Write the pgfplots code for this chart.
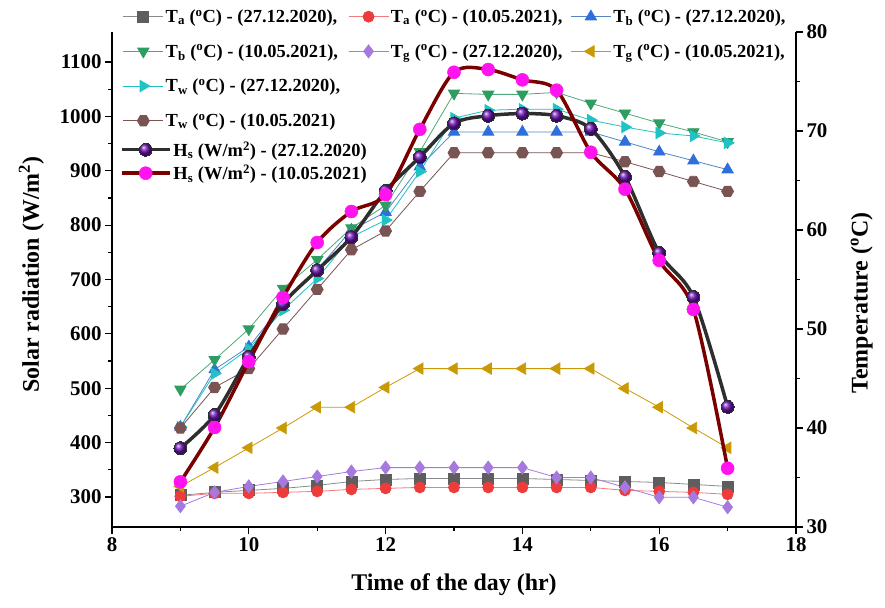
\documentclass[border=0pt]{standalone}
\usepackage{fontspec}
\setmainfont{Liberation Serif}
\usepackage{pgfplots}
\pgfplotsset{compat=1.18}
\usetikzlibrary{plotmarks}

\definecolor{cTaA}{HTML}{5E5E5E}\definecolor{cTaAl}{HTML}{8A8A8A}
\definecolor{cTaB}{HTML}{EE3B3B}\definecolor{cTaBl}{HTML}{F27A7A}
\definecolor{cTbA}{HTML}{2F6FDB}\definecolor{cTbAl}{HTML}{4F86C6}
\definecolor{cTbB}{HTML}{2E9D62}\definecolor{cTbBl}{HTML}{4FA877}
\definecolor{cTgA}{HTML}{A679DE}
\definecolor{cTgB}{HTML}{C99A06}
\definecolor{cTwA}{HTML}{20C2C4}
\definecolor{cTwB}{HTML}{7A5353}
\definecolor{cHsA}{HTML}{2E2E2E}
\definecolor{cHsB}{HTML}{7A0000}
\definecolor{cMag}{HTML}{FF14F0}
\definecolor{cBall}{HTML}{6A10B0}

\pgfdeclareplotmark{hexagon}{%
  \pgfpathmoveto{\pgfqpointpolar{0}{\pgfplotmarksize}}%
  \pgfpathlineto{\pgfqpointpolar{60}{\pgfplotmarksize}}%
  \pgfpathlineto{\pgfqpointpolar{120}{\pgfplotmarksize}}%
  \pgfpathlineto{\pgfqpointpolar{180}{\pgfplotmarksize}}%
  \pgfpathlineto{\pgfqpointpolar{240}{\pgfplotmarksize}}%
  \pgfpathlineto{\pgfqpointpolar{300}{\pgfplotmarksize}}%
  \pgfpathclose\pgfusepathqfillstroke}

\newcommand{\tickfont}{\fontsize{21}{24}\selectfont\bfseries}
\newcommand{\labfont}{\fontsize{24}{28}\selectfont\bfseries}
\newcommand{\legfont}{\fontsize{18.5}{21}\selectfont\bfseries}

\pgfplotsset{
  base/.style={
    width=684bp, height=495bp, scale only axis,
    at={(0,0)}, anchor=south west,
    xmin=8, xmax=18,
    axis line style={line width=1.4bp},
    tick style={line width=1.2bp, black},
    tick align=outside,
    major tick length=7bp, minor tick length=4bp,
    ticklabel style={font=\tickfont},
    /pgf/number format/assume math mode=true,
    /pgf/number format/1000 sep={},
    legend cell align=left,
  },
  temp/.style={thin, line width=0.8bp, mark size=5.5bp},
  legimg/.style={legend image code/.code={%
      \draw[mark repeat=2, mark phase=2] plot coordinates {(0bp,0bp) (20bp,0bp) (40bp,0bp)};}},
}

\begin{document}
\begin{tikzpicture}
\path[use as bounding box] (-112bp,-81bp) rectangle (773bp,527bp);

% temperatures, right axis
\begin{axis}[base,
  axis x line*=bottom, axis y line*=right,
  ymin=30, ymax=80,
  xtick={8,10,...,18}, minor x tick num=1,
  ytick={30,40,...,80}, minor y tick num=1,
  xlabel={Time of the day (hr)},
  ylabel={Temperature (\textsuperscript{o}C)},
  every axis x label/.style={at={(axis description cs:0.5,-0.116)}, anchor=center, font=\labfont},
  every axis y label/.style={at={(axis description cs:1.096,0.4525)}, rotate=90, anchor=center, font=\labfont},
  legimg,
  legend columns=3,
  legend style={draw=none, fill=none, inner sep=0pt, outer sep=0pt,
    at={(axis description cs:0.016,1.066)}, anchor=north west,
    font=\legfont, nodes={inner ysep=10.2bp},
    /tikz/every even column/.append style={column sep=6bp}},
]
\addplot[temp, cTaAl, mark=square*, mark options={draw=cTaA, fill=cTaA}] coordinates {
(9,33.2) (9.5,33.5) (10,33.7) (10.5,33.9) (11,34.2) (11.5,34.6) (12,34.8) (12.5,34.9) (13,34.9)
(13.5,34.9) (14,34.9) (14.5,34.8) (15,34.7) (15.5,34.6) (16,34.5) (16.5,34.3) (17,34.1)};
\addlegendentry{T\textsubscript{a} (\textsuperscript{o}C) - (27.12.2020),}
\addplot[temp, cTaBl, mark=*, mark options={draw=cTaB, fill=cTaB}] coordinates {
(9,33.1) (9.5,33.4) (10,33.4) (10.5,33.5) (11,33.6) (11.5,33.8) (12,33.9) (12.5,34.0) (13,34.0)
(13.5,34.0) (14,34.0) (14.5,34.0) (15,34.0) (15.5,33.7) (16,33.6) (16.5,33.5) (17,33.3)};
\addlegendentry{T\textsubscript{a} (\textsuperscript{o}C) - (10.05.2021),}
\addplot[temp, cTbAl, mark=triangle*, mark size=6.5bp, mark options={draw=cTbA, fill=cTbA}] coordinates {
(9,40.1) (9.5,45.9) (10,48.2) (10.5,52.5) (11,56.0) (11.5,60.0) (12,61.8) (12.5,66.4) (13,69.9)
(13.5,69.9) (14,69.9) (14.5,69.9) (15,69.9) (15.5,68.9) (16,67.9) (16.5,67.0) (17,66.1)};
\addlegendentry{T\textsubscript{b} (\textsuperscript{o}C) - (27.12.2020),}
\addplot[temp, cTbBl, mark=triangle*, mark size=6.5bp, mark options={rotate=180, draw=cTbB, fill=cTbB}] coordinates {
(9,43.9) (9.5,46.9) (10,50.0) (10.5,54.1) (11,57.0) (11.5,60.2) (12,62.5) (12.5,67.9) (13,73.8)
(13.5,73.7) (14,73.7) (14.5,73.9) (15,72.8) (15.5,71.8) (16,70.8) (16.5,69.9) (17,68.9)};
\addlegendentry{T\textsubscript{b} (\textsuperscript{o}C) - (10.05.2021),}
\addplot[temp, cTgA, mark=diamond*, mark size=6.5bp, mark options={draw=cTgA, fill=cTgA}] coordinates {
(9,32.1) (9.5,33.5) (10,34.1) (10.5,34.6) (11,35.1) (11.5,35.6) (12,36.0) (12.5,36.0) (13,36.0)
(13.5,36.0) (14,36.0) (14.5,35.0) (15,35.0) (15.5,34.0) (16,33.0) (16.5,33.0) (17,32.0)};
\addlegendentry{T\textsubscript{g} (\textsuperscript{o}C) - (27.12.2020),}
\addplot[temp, cTgB, mark=triangle*, mark size=6.5bp, mark options={rotate=90, draw=cTgB, fill=cTgB}] coordinates {
(9,34.1) (9.5,36.0) (10,38.0) (10.5,40.0) (11,42.1) (11.5,42.1) (12,44.1) (12.5,46.0) (13,46.0)
(13.5,46.0) (14,46.0) (14.5,46.0) (15,46.0) (15.5,44.0) (16,42.1) (16.5,40.0) (17,38.0)};
\addlegendentry{T\textsubscript{g} (\textsuperscript{o}C) - (10.05.2021),}
\addplot[temp, cTwA, mark=triangle*, mark size=6.5bp, mark options={rotate=-90, draw=cTwA, fill=cTwA}] coordinates {
(9,40.1) (9.5,45.5) (10,48.0) (10.5,51.9) (11,55.1) (11.5,59.3) (12,61.0) (12.5,65.9) (13,71.3)
(13.5,72.1) (14,72.2) (14.5,72.2) (15,71.1) (15.5,70.4) (16,69.8) (16.5,69.5) (17,68.8)};
\addlegendentry{T\textsubscript{w} (\textsuperscript{o}C) - (27.12.2020),}
\addlegendimage{empty legend}\addlegendentry{}
\addlegendimage{empty legend}\addlegendentry{}
\addplot[temp, cTwB, mark=hexagon, mark size=6bp, mark options={draw=cTwB, fill=cTwB}] coordinates {
(9,40.0) (9.5,44.1) (10,46.0) (10.5,50.0) (11,54.0) (11.5,58.0) (12,59.9) (12.5,63.9) (13,67.8)
(13.5,67.8) (14,67.8) (14.5,67.8) (15,67.8) (15.5,66.9) (16,65.9) (16.5,64.9) (17,63.9)};
\addlegendentry{T\textsubscript{w} (\textsuperscript{o}C) - (10.05.2021)}
\end{axis}

% solar radiation, left axis
\begin{axis}[base,
  axis x line=none, axis y line*=left,
  ymin=245, ymax=1155,
  ytick={300,400,...,1100}, minor y tick num=1,
  ylabel={Solar radiation (W/m\textsuperscript{2})},
  every axis y label/.style={at={(axis description cs:-0.118,0.51)}, rotate=90, anchor=center, font=\labfont},
  legend image code/.code={%
      \draw[mark repeat=2, mark phase=2] plot coordinates {(0bp,0bp) (24bp,0bp) (48bp,0bp)};},
  legend style={draw=none, fill=none, inner sep=0pt, outer sep=0pt,
    at={(axis description cs:0.0117,0.786)}, anchor=north west,
    font=\legfont, nodes={inner ysep=3.6bp}},
]
\addplot[cHsA, line width=3.5bp, smooth, tension=0.5, mark=ball, mark size=6.5bp,
  mark options={ball color=cBall, line width=0pt}] coordinates {
(9,390) (9.5,451) (10,558) (10.5,655) (11,717) (11.5,778) (12,863) (12.5,925) (13,987)
(13.5,1001) (14,1005) (14.5,1001) (15,977) (15.5,889) (16,749) (16.5,668) (17,466)};
\addlegendentry{H\textsubscript{s} (W/m\textsuperscript{2}) - (27.12.2020)}
\addplot[cHsB, line width=3.5bp, smooth, tension=0.5, mark=*, mark size=6.5bp,
  mark options={draw=cMag, fill=cMag, line width=0.5bp}] coordinates {
(9,328) (9.5,428) (10,549) (10.5,667) (11,768) (11.5,825) (12,856) (12.5,976) (13,1081)
(13.5,1086) (14,1067) (14.5,1048) (15,934) (15.5,866) (16,735) (16.5,645) (17,353)};
\addlegendentry{H\textsubscript{s} (W/m\textsuperscript{2}) - (10.05.2021)}
\end{axis}
\end{tikzpicture}
\end{document}
